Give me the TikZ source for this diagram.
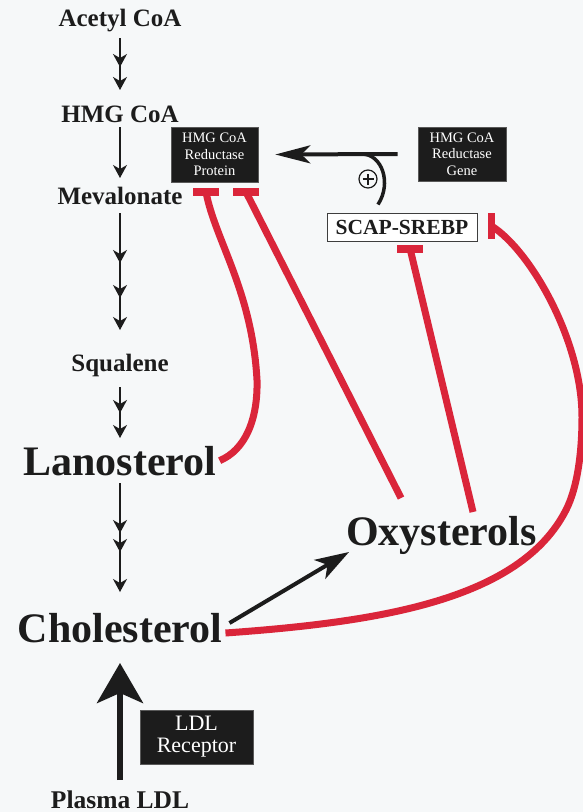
\documentclass[tikz,border=0pt]{standalone}
\usepackage{fontspec}
\setmainfont{Liberation Serif}
\usetikzlibrary{arrows.meta,decorations.markings}
\definecolor{inhib}{RGB}{218,37,58}
\definecolor{boxdark}{RGB}{28,28,28}
\definecolor{bgc}{RGB}{246,248,249}
\definecolor{ink}{RGB}{28,28,28}
\begin{document}
\begin{tikzpicture}[x=1pt,y=-1pt,
  lab/.style={font=\fontsize{25}{25}\selectfont\bfseries, text=ink, inner sep=0pt, anchor=base},
  biglab/.style={font=\fontsize{42}{42}\selectfont\bfseries, text=ink, inner sep=0pt, anchor=base},
  darkbox/.style={fill=boxdark, draw=gray!70!black, line width=0.6pt, text=white, align=center, inner sep=0pt, font=\fontsize{14.5}{16.5}\selectfont},
  chain/.style={draw=ink, line width=1.4pt, -{Stealth[length=13pt,width=14pt,inset=4pt]}},
  midhead/.style={postaction={decorate, decoration={markings, mark=at position #1 with {\arrow{Stealth[length=13pt,width=14pt,inset=4pt]}}}}},
  tbar/.style={fill=inhib, minimum width=26pt, minimum height=8pt, inner sep=0pt},
  vbar/.style={fill=inhib, minimum width=7pt, minimum height=26pt, inner sep=0pt},
  inhline/.style={draw=inhib, line width=7pt},
  bold arrow/.style={draw=ink, line width=4pt}
]
\fill[bgc] (0,0) rectangle (583,812);
\useasboundingbox (0,0) rectangle (583,812);

% pathway labels
\node[lab] (acetyl) at (120,26) {Acetyl CoA};
\node[lab] (hmg) at (120,122) {HMG CoA};
\node[lab] (mev) at (120,204) {Mevalonate};
\node[lab] (squ) at (120,371) {Squalene};
\node[biglab] (lano) at (120,475) {Lanosterol};
\node[biglab] (chol) at (120,642) {Cholesterol};
\node[biglab] (oxy) at (441.5,545) {Oxysterols};
\node[lab, font=\fontsize{25.5}{25.5}\selectfont\bfseries] (plasma) at (120,808) {Plasma LDL};

% boxes
\node[darkbox, minimum width=87pt, minimum height=55pt] (prot) at (214.5,154.5) {HMG CoA\\Reductase\\Protein};
\node[darkbox, minimum width=88pt, minimum height=54pt] (gene) at (462,154) {HMG CoA\\Reductase\\Gene};
\node[draw=ink!85, line width=1pt, fill=white, minimum width=150pt, minimum height=28pt, inner sep=0pt,
      font=\fontsize{21.5}{21.5}\selectfont\bfseries, text=ink] (scap) at (402,227) {SCAP-SREBP};
\node[darkbox, minimum width=113pt, minimum height=54pt, font=\fontsize{22}{22}\selectfont] (ldlr) at (196.5,737) {LDL\\Receptor};

% main chain
\draw[chain, midhead=29pt] ([yshift=-12pt]acetyl.base) -- ([yshift=32pt]hmg.base);
\draw[chain] ([yshift=-5pt]hmg.base) -- ([yshift=26pt]mev.base);
\draw[chain, midhead=50pt, midhead=85pt] ([yshift=-9pt]mev.base) -- ([yshift=41pt]squ.base);
\draw[chain, midhead=26pt] ([yshift=-16pt]squ.base) -- ([yshift=37pt]lano.base);
\draw[chain, midhead=50pt, midhead=69pt] ([yshift=-8pt]lano.base) -- ([yshift=50pt]chol.base);

% plasma LDL uptake
\draw[draw=ink, line width=6pt, -{Stealth[length=40pt,width=46pt,inset=10pt]}] ([yshift=28pt]plasma.base) -- ([yshift=-21pt]chol.base);

% cholesterol -> oxysterols
\draw[bold arrow, -{Stealth[length=34pt,width=22pt,inset=9pt]}] ([xshift=7pt,yshift=19pt]chol.base east) -- ([xshift=3pt,yshift=-7pt]oxy.base west);

% gene -> protein
\draw[bold arrow, -{Stealth[length=35pt,width=18pt,inset=9pt]}] ([xshift=-20pt]gene.west) -- ([xshift=17pt]prot.east);
\coordinate (arcS) at ([xshift=-56pt]gene.west);
\coordinate (arcE) at ([xshift=-24pt,yshift=8pt]scap.north);
\draw[draw=ink, line width=3.5pt] (arcS) .. controls (382,154) and (392,183) .. (arcE);
\node[circle, draw=ink, line width=1.2pt, minimum size=18pt, inner sep=0pt] (plus) at (368,179) {};
\draw[ink, line width=1.2pt] ([xshift=-5.5pt]plus.center) -- ([xshift=5.5pt]plus.center)
  ([yshift=-5.5pt]plus.center) -- ([yshift=5.5pt]plus.center);

% inhibition bars
\node[tbar] (bar1) at (206,192) {};
\node[tbar] (bar2) at (246,192) {};
\node[tbar] (bar3) at (410,248.5) {};
\node[vbar] (bar4) at (491.5,226) {};

\coordinate (oxyA) at ([xshift=55pt,yshift=47pt]oxy.base west);
\coordinate (oxyB) at ([xshift=127pt,yshift=33pt]oxy.base west);

\draw[inhline] (bar1.center) .. controls (215,240) and (252,290) .. (257,380)
  .. controls (258,420) and (245,450) .. ([xshift=3pt]lano.east);
\draw[inhline] (bar2.center) -- (oxyA);
\draw[inhline] (bar3.center) -- (oxyB);
\draw[inhline] ([xshift=3pt,yshift=9pt]chol.base east) .. controls (380,622) and (520,600) .. (566,510)
  .. controls (578,486.5) and (582,450) .. (582,417)
  .. controls (582,340) and (530,250) .. (bar4.center);
\end{tikzpicture}
\end{document}
